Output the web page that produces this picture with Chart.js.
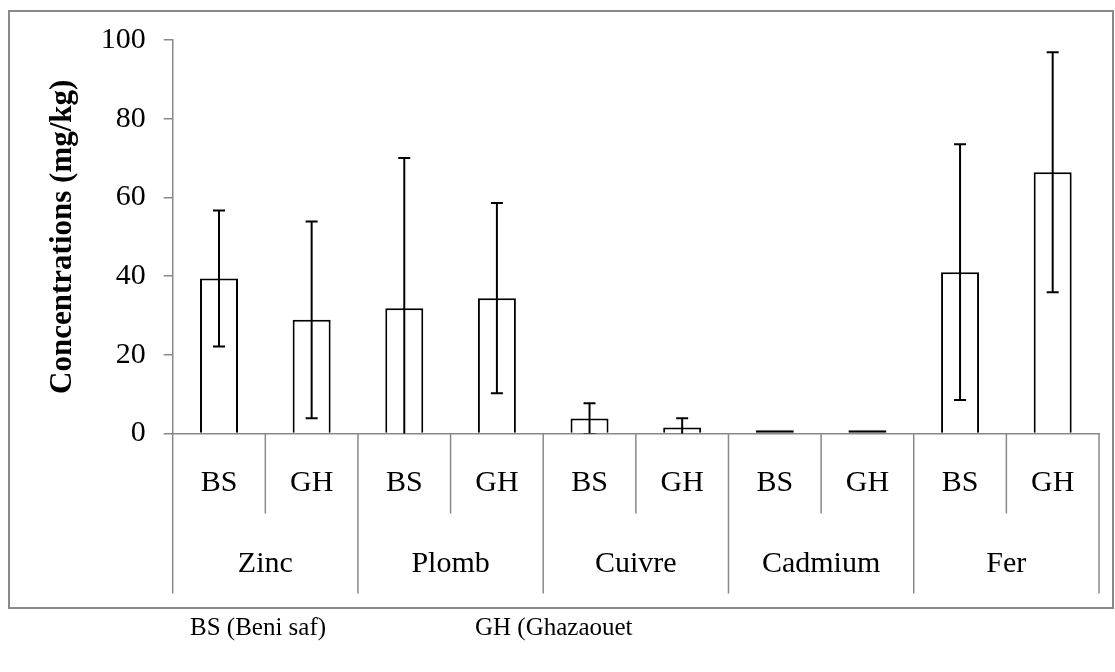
<!DOCTYPE html>
<html>
<head>
<meta charset="utf-8">
<script src="https://cdn.jsdelivr.net/npm/chart.js@4.4.1/dist/chart.umd.min.js"></script>
<style>
  html, body { margin: 0; padding: 0; background: #fff; }
  #wrap { position: relative; width: 1115px; height: 672px; }
  #chart { position: absolute; left: 0; top: 0; }
  .note {
    position: absolute; top: 613px;
    font-family: 'Liberation Serif', 'Times New Roman', serif;
    font-size: 25px; color: #000; white-space: nowrap;
  }
</style>
</head>
<body>
<div id="wrap">
  <canvas id="chart" width="1115" height="672"></canvas>
  <div class="note" style="left:190px">BS (Beni saf)</div>
  <div class="note" style="left:475px">GH (Ghazaouet</div>
</div>
<script>
// data
const sites = ['BS', 'GH', 'BS', 'GH', 'BS', 'GH', 'BS', 'GH', 'BS', 'GH'];
const metals = ['Zinc', 'Plomb', 'Cuivre', 'Cadmium', 'Fer'];
const means = [39.4, 28.9, 31.8, 34.4, 3.8, 1.5, 0.8, 0.8, 41.0, 66.4];
const sds = [17.3, 25.0, 38.2, 24.2, 3.9, 2.4, 0, 0, 32.5, 30.5];
const yTicks = [0, 20, 40, 60, 80, 100];

const serif = "'Liberation Serif', 'Times New Roman', serif";
const axisGrey = '#898989';

// error bars + two-level category axis
const extras = {
    id: 'extras',
    afterDatasetsDraw(chart) {
        const ctx = chart.ctx;
        const x = chart.scales.x;
        const y = chart.scales.y;
        const area = chart.chartArea;

        // error bars (clipped to the plot like in the original)
        ctx.save();
        ctx.beginPath();
        ctx.rect(area.left, area.top, area.right - area.left, area.bottom - area.top);
        ctx.clip();
        ctx.strokeStyle = '#000';
        ctx.lineWidth = 2;
        means.forEach((m, i) => {
            if (!sds[i]) return;
            const cx = x.getPixelForValue(i);
            const hi = y.getPixelForValue(m + sds[i]);
            const lo = y.getPixelForValue(m - sds[i]);
            ctx.beginPath();
            ctx.moveTo(cx, hi);
            ctx.lineTo(cx, lo);
            ctx.moveTo(cx - 6, hi);
            ctx.lineTo(cx + 6, hi);
            ctx.moveTo(cx - 6, lo);
            ctx.lineTo(cx + 6, lo);
            ctx.stroke();
        });
        ctx.restore();

        // separators under the axis
        const slot = (x.right - x.left) / sites.length;
        const base = area.bottom;
        ctx.save();
        ctx.strokeStyle = axisGrey;
        ctx.lineWidth = 1.5;
        for (let k = 0; k <= sites.length; k++) {
            const px = x.left + k * slot;
            ctx.beginPath();
            ctx.moveTo(px, base);
            ctx.lineTo(px, k % 2 === 0 ? base + 160 : base + 80);
            ctx.stroke();
        }
        // group names
        ctx.fillStyle = '#000';
        ctx.font = '30px ' + serif;
        ctx.textAlign = 'center';
        ctx.textBaseline = 'middle';
        metals.forEach((name, g) => {
            const cx = x.left + (g * 2 + 1) * slot;
            ctx.fillText(name, cx, base + 131);
        });
        ctx.restore();

        // outer frame
        ctx.save();
        ctx.strokeStyle = axisGrey;
        ctx.lineWidth = 2;
        ctx.strokeRect(9, 11, 1104, 597);
        ctx.restore();
    }
};

new Chart(document.getElementById('chart'), {
    type: 'bar',
    data: {
        labels: sites,
        datasets: [{
            data: means,
            backgroundColor: '#fff',
            borderColor: '#000',
            borderWidth: 2,
            // very short bars keep all four edges so they show as a solid line
            borderSkipped: c => (means[c.dataIndex] < 1 ? false : 'start'),
            categoryPercentage: 1,
            barPercentage: 0.41
        }]
    },
    options: {
        responsive: false,
        animation: false,
        devicePixelRatio: 1,
        layout: { padding: { top: 40, right: 16, left: 0, bottom: 0 } },
        plugins: { legend: { display: false }, tooltip: { enabled: false } },
        scales: {
            x: {
                offset: true,
                grid: { display: false },
                border: { display: true, color: axisGrey, width: 1.5 },
                ticks: {
                    color: '#000', font: { family: serif, size: 30 },
                    padding: 24, maxRotation: 0, autoSkip: false
                },
                afterFit(scale) { scale.height = 238.5; }
            },
            y: {
                min: 0,
                max: 100,
                afterBuildTicks(scale) { scale.ticks = yTicks.map(v => ({ value: v })); },
                grid: {
                    drawOnChartArea: false, drawTicks: true, tickLength: 9,
                    color: axisGrey, lineWidth: 1.5
                },
                border: { display: true, color: axisGrey, width: 1.5 },
                ticks: { color: '#000', font: { family: serif, size: 30 }, padding: 18 },
                title: {
                    display: true,
                    text: 'Concentrations (mg/kg)',
                    color: '#000',
                    font: { family: serif, size: 31, weight: 'bold' },
                    padding: { top: 44, bottom: 0 }
                },
                afterFit(scale) { scale.width = 172.7; }
            }
        }
    },
    plugins: [extras]
});
</script>
</body>
</html>
